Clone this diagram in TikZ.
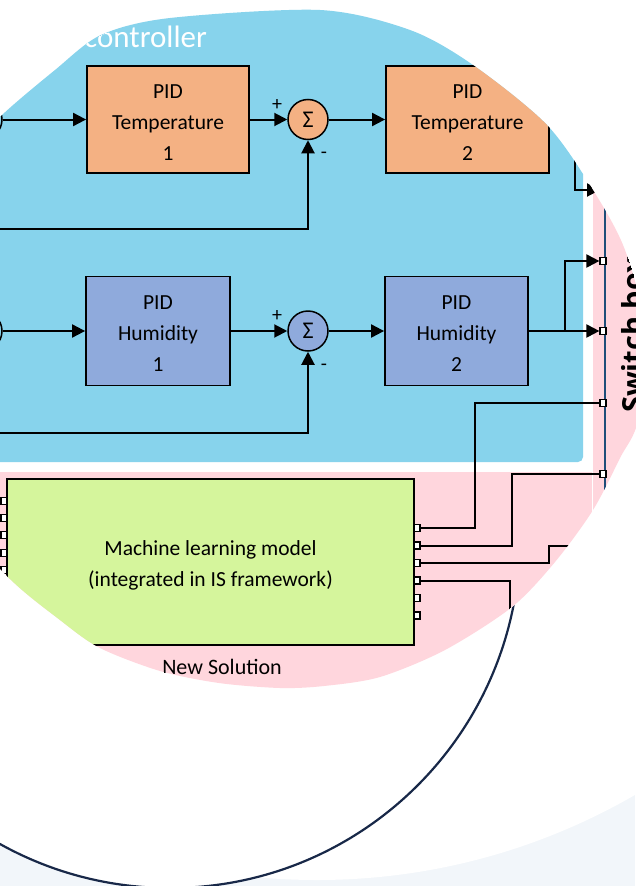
\documentclass[tikz,border=0pt]{standalone}
\usepackage{fontspec}
\setmainfont{Carlito}
\newfontfamily\switchfont{Open Sans}
\usetikzlibrary{arrows.meta,positioning}
\definecolor{ctrlblue}{RGB}{135,211,236}
\definecolor{tempfill}{RGB}{244,177,131}
\definecolor{humfill}{RGB}{143,170,220}
\definecolor{mlfill}{RGB}{213,245,156}
\definecolor{solpink}{RGB}{255,214,221}
\definecolor{bgmist}{RGB}{242,246,250}
\definecolor{lensnavy}{RGB}{24,40,72}
\definecolor{swline}{RGB}{31,78,121}
\begin{document}
\begin{tikzpicture}[x=1pt,y=-1pt,
  pidbox/.style={draw=black,line width=1.8pt,inner sep=0pt},
  boxtext/.style={align=center,inner sep=0pt,font=\fontsize{21.5}{31}\selectfont},
  sumnode/.style={circle,draw=black,line width=1.5pt,minimum size=40pt,inner sep=0pt,font=\fontsize{24}{24}\selectfont},
  port/.style={draw=black,fill=white,line width=1.2pt,minimum width=6pt,minimum height=7pt,inner sep=0pt},
  wire/.style={line width=2pt},
  sig/.style={wire,-{Triangle[length=13pt,width=13pt]}},
  sign/.style={font=\fontsize{20}{20}\selectfont,inner sep=0pt}]
\useasboundingbox (0,0) rectangle (635,886);

%backdrop
\fill[bgmist] (0,0) rectangle (635,886);
\fill[white] (317,244) circle[radius=636pt];
\filldraw[fill=white,draw=lensnavy,line width=2.2pt] (170,538) circle[radius=350pt];

%lens
\begin{scope}
\clip plot[smooth cycle] coordinates {(320,10) (410,30) (473,65) (547,125) (593,190) (625,250) (645,330) (638,420) (620,458) (593,510) (555,562) (512,607) (445,650) (380,677) (324,686) (280,688) (219,683) (160,671) (100,648) (60,620) (7,576) (-57,500) (-90,400) (-85,300) (-58,200) (-25,150) (0,117) (55,70) (101,35) (170,18)};
\fill[white] (-100,-60) rectangle (700,900);
\fill[ctrlblue,rounded corners=5pt] (-100,-60) rectangle (583,462);
\fill[solpink] (-100,472) rectangle (591.5,800);
\fill[solpink] (592.5,-60) rectangle (700,800);

%labels
\node[white,anchor=base west,inner sep=0pt,font=\fontsize{31}{31}\selectfont] (ctrllabel) at (84,47) {controller};
\node[font=\fontsize{22}{22}\selectfont] (sollabel) at (222,667) {New Solution};
\node[rotate=90,anchor=base west,inner sep=0pt,font=\switchfont\bfseries\fontsize{29}{29}\selectfont] (swlabel) at (643,413) {Switch box};

%switch box
\draw[swline,line width=1.3pt] (605,100) -- (605,700);
\node[port] (swB) at (603,261) {};
\node[port] (swC) at (603,331) {};
\node[port] (swD) at (603,403) {};
\node[port] (swE) at (603,474) {};
\coordinate (swA) at (600,190);
\coordinate (swF) at (605,546);

%temperature loop
\node[sumnode,fill=ctrlblue] (inT) at (-18,119.5) {};
\node[pidbox,fill=tempfill,minimum width=162pt,minimum height=107pt] (temp1) at (168,119.5) {};
\node[boxtext] (temp1txt) at ([yshift=-3pt]temp1.center) {PID\\Temperature\\1};
\node[sumnode,fill=tempfill] (sumT) at (308,119.5) {Σ};
\node[pidbox,fill=tempfill,minimum width=163pt,minimum height=107pt] (temp2) at (467.5,119.5) {};
\node[boxtext] (temp2txt) at ([yshift=-3pt]temp2.center) {PID\\Temperature\\2};
\node[sign] (plusT) at (277,105) {+};
\node[sign] (minusT) at (324,155) {-};
\coordinate (fbT) at (-30,229);

%humidity loop
\node[sumnode,fill=ctrlblue] (inH) at (-18,331) {};
\node[pidbox,fill=humfill,minimum width=144pt,minimum height=109pt] (hum1) at (158,331) {};
\node[boxtext] (hum1txt) at ([yshift=-3pt]hum1.center) {PID\\Humidity\\1};
\node[sumnode,fill=humfill] (sumH) at (308,331) {Σ};
\node[pidbox,fill=humfill,minimum width=143pt,minimum height=109pt] (hum2) at (456.5,331) {};
\node[boxtext] (hum2txt) at ([yshift=-3pt]hum2.center) {PID\\Humidity\\2};
\node[sign] (plusH) at (277,316) {+};
\node[sign] (minusH) at (324,367) {-};
\coordinate (fbH) at (-30,433);

%machine learning model
\node[pidbox,fill=mlfill,minimum width=407pt,minimum height=166pt] (ml) at (210.5,562) {};
\node[boxtext] (mltxt) at ([yshift=-3.5pt]ml.center) {Machine learning model\\(integrated in IS framework)};
\foreach \k/\y in {1/528,2/545.5,3/563,4/580.5,5/598,6/615.5}
  \node[port] (mlout\k) at (417,\y) {};
\foreach \k/\y in {1/501,2/518,3/535,4/553,5/570}{
  \node[port] (mlin\k) at (4,\y) {};
  \draw[line width=1.2pt] (mlin\k.west) -- ++(-8,0);
}

%signals
\draw[sig] (inT) -- (temp1);
\draw[sig] (temp1) -- (sumT);
\draw[sig] (sumT) -- (temp2);
\draw[sig] (fbT) -| (sumT);
\draw[sig] (temp2.east) -- ++(25,0) |- (swA);
\draw[sig] (inH) -- (hum1);
\draw[sig] (hum1) -- (sumH);
\draw[sig] (sumH) -- (hum2);
\draw[sig] (fbH) -| (sumH);
\draw[sig] (hum2.east) -- ++(36,0) |- (swB);
\draw[sig] (hum2) -- (swC);

%model outputs
\coordinate (bendA) at (475,403);
\coordinate (bendB) at (512,474);
\coordinate (bendC) at (549,546);
\coordinate (dropD) at (510,660);
\draw[wire] (mlout1.east) -| (bendA) -- (swD.west);
\draw[wire] (mlout2.east) -| (bendB) -- (swE.west);
\draw[wire] (mlout3.east) -| (bendC) -- (swF);
\draw[wire] (mlout4.east) -| (dropD);
\end{scope}
\end{tikzpicture}
\end{document}
